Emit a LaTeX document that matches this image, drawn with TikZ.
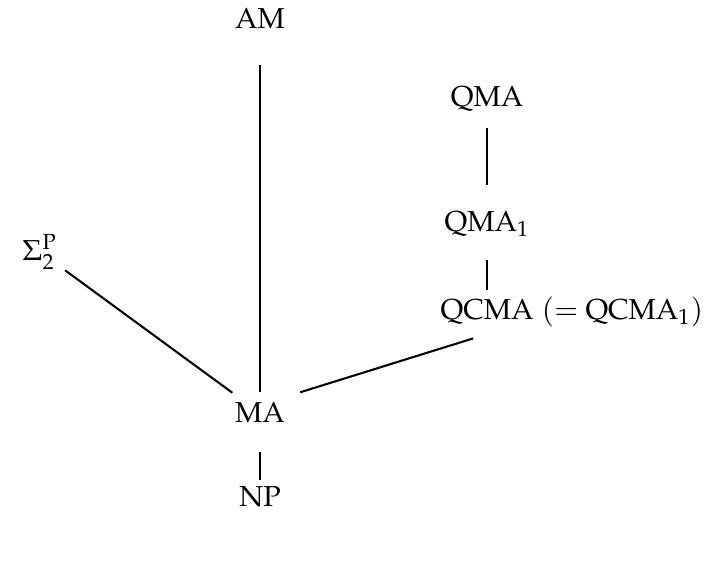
\documentclass[tikz,border=0pt]{standalone}
\usepackage{amsmath}
\usepackage[T1]{fontenc}
\usepackage{mathpazo}
\usepackage{tikz}
\usetikzlibrary{positioning}
\tikzstyle{line} = [draw, line width=0.75pt]
\tikzstyle{cls} = [inner sep=0pt, outer sep=0pt]

\begin{document}
\begin{tikzpicture}[font=\fontsize{10.5}{13}\selectfont]
\useasboundingbox (0, 0) rectangle (9.18, -7.20);
\node at (3.325, -0.237) [cls] (AM) {AM};
\node at (3.325, -5.281) [cls] (MA) {MA};
\node at (3.325, -6.356) [cls] (NP) {NP};
\node at (0.51, -3.22) [cls] (Sigma) {$\Sigma_2^{\mathrm{P}}$};

\node at (6.228, -1.266) [cls] (QMA) {QMA};
\node at (6.228, -2.864) [cls] (QMAone) {QMA$_1$};
\node at (6.228, -3.99) [cls] (QCMA) {QCMA};
\node [cls, anchor=base west, xshift=0.3em] (QCMAeq) at (QCMA.base east) {$(=$ QCMA$_1)$};

\path [line, shorten <=16.9pt, shorten >=7.6pt] (AM.center) -- (MA.center);
\path [line, shorten <=14.2pt, shorten >=6.2pt] (MA.center) -- (NP.center);
\path [line, shorten <=11.4pt, shorten >=12.5pt] (Sigma.center) -- (MA.center);
\path [line, shorten <=10.5pt, shorten >=14.2pt] (QMA.center) -- (QMAone.center);
\path [line, shorten <=13.1pt, shorten >=8.2pt] (QMAone.center) -- (QCMA.center);
\path [line, shorten <=15.3pt, shorten >=5.3pt] ([yshift=3pt]MA.center) -- ([yshift=-8pt]QCMA.center);
\end{tikzpicture}
\end{document}
